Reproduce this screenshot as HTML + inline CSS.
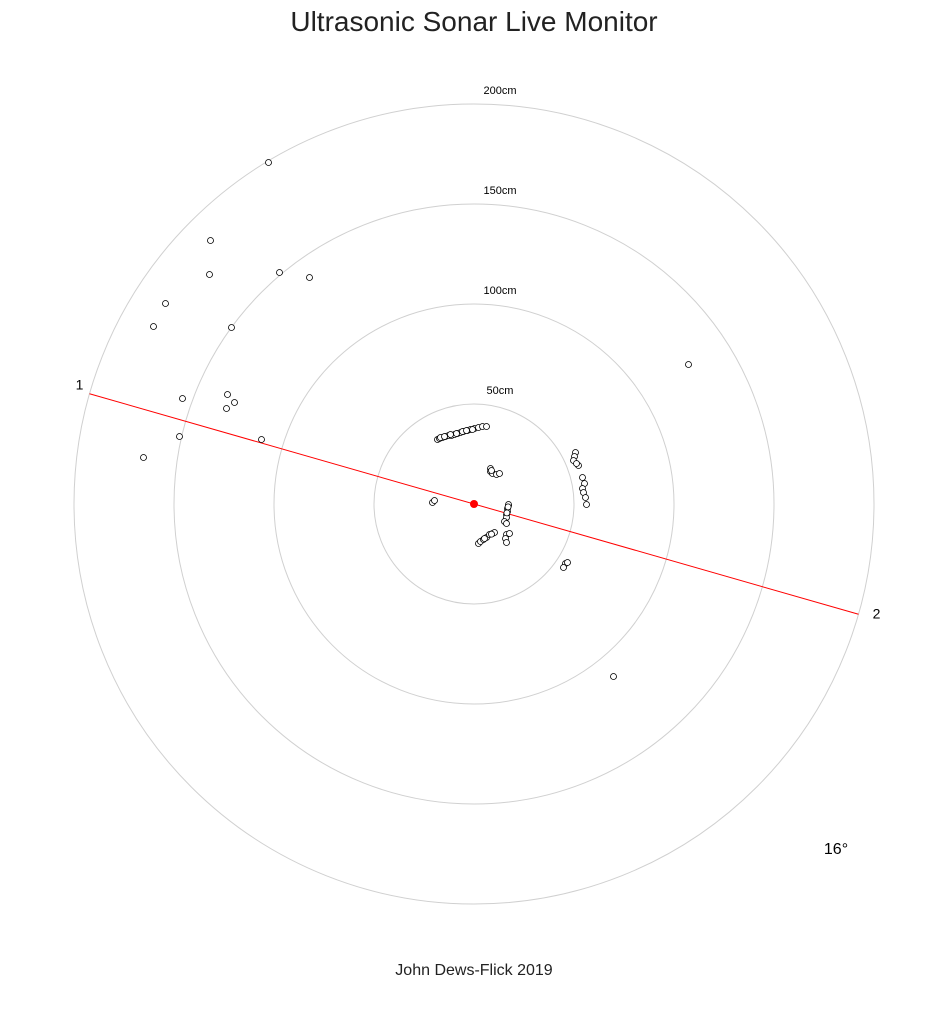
<!DOCTYPE html>
<html><head><meta charset="utf-8"><style>
body{margin:0;background:#fff;font-family:"Liberation Sans",sans-serif}
svg{display:block}
</style></head><body>
<svg id="c" width="949" height="1018">
<text x="474" y="31" text-anchor="middle" font-size="28" fill="#222">Ultrasonic Sonar Live Monitor</text>
<g id="rings"></g><g id="pts"></g>
<text x="474" y="975" text-anchor="middle" font-size="16" fill="#222">John Dews-Flick 2019</text>
<text x="836" y="854" text-anchor="middle" font-size="16" fill="#000">16°</text>
</svg>
<script>
const ringValues=[50,100,150,200];
const ringLabels=["50cm","100cm","150cm","200cm"];
const sweepAngleDeg=16;
const xs=[-103,-132,-132.5,-97.5,-82.5,-154.5,-160.5,-121.5,-123.5,-146,-124,-120,-147.5,-106.5,-165.5,107,69.5,-21,-20,45.5,44.5,46.5,
-18.5,-17.5,-16,-14.5,-13,-11.5,-10,-8.5,-7,-5.5,-3.5,-2,0,2,4,6,
-17,-15,-12,-9,-6,-4,-1,
8,8,9,11,12.5,8.5,
50.5,50,49.5,52,51,54,55,54,54.5,55.5,56,
17,16.5,16.5,16,16,15,16,17,16.8,16.2,
2,3,4.5,6,7.5,9,10,16,17.5,15.5,16,5,8.5];
const ys=[171,132,115,116,113.5,100.5,89,88.5,55,53,48,51,34,32.5,23.5,70,-86,1,2,-29.5,-31.5,-29,
32.5,33,33.5,34,34.5,34.5,35,35.5,36,36.5,37,37.5,38,38.5,39,39,
33.5,34,35,35.5,36.5,37,37.5,
18,16.5,15.5,15,15.5,17,
26,24,22,19.5,20.5,13.5,10.5,8,6,3.5,0,
-0.5,-2,-3.5,-5,-6.5,-8.5,-9.5,0,-1.2,-4.2,
-19.5,-18.5,-17.5,-16.5,-15,-14.5,-14,-15,-14.5,-17,-19,-17,-14.8];
const cx=474,cy=504,scale=2;
const X=v=>cx+0.5+v*scale, Y=v=>cy+0.5-v*scale;
const NS="http://www.w3.org/2000/svg";
const rg=document.getElementById('rings'), pg=document.getElementById('pts');
function mk(t,a,p){const e=document.createElementNS(NS,t);for(const k in a)e.setAttribute(k,a[k]);p.appendChild(e);return e;}
ringValues.forEach((r,i)=>{
 const c=mk('circle',{cx:cx,cy:cy,r:r*scale,fill:'none',stroke:'#d0d0d0','stroke-width':1},rg);
 
 
 const t=mk('text',{x:cx+26,y:cy-r*scale-10,'text-anchor':'middle','font-size':11,fill:'#000'},rg);
 t.textContent=ringLabels[i];
 
 
});
const a=sweepAngleDeg*Math.PI/180, L=200*scale;
const dx=Math.cos(a)*L, dy=Math.sin(a)*L;
const ln=mk('line',{x1:cx-dx,y1:cy-dy,x2:cx+dx,y2:cy+dy,stroke:'#ff0000','stroke-width':1},rg);


const l1=mk('text',{x:cx-dx-10,y:cy-dy-4,'text-anchor':'middle','font-size':14,fill:'#000'},rg);l1.textContent='1';


const l2=mk('text',{x:cx+dx+18,y:cy+dy+4,'text-anchor':'middle','font-size':14,fill:'#000'},rg);l2.textContent='2';


xs.forEach((x,i)=>{
 const p=mk('circle',{cx:X(x),cy:Y(ys[i]),r:3,fill:'#fff',stroke:'#000','stroke-width':0.8},pg);
 
 
});
const s=mk('circle',{cx:cx,cy:cy,r:4,fill:'#ff0000'},pg);


</script>
</body></html>
